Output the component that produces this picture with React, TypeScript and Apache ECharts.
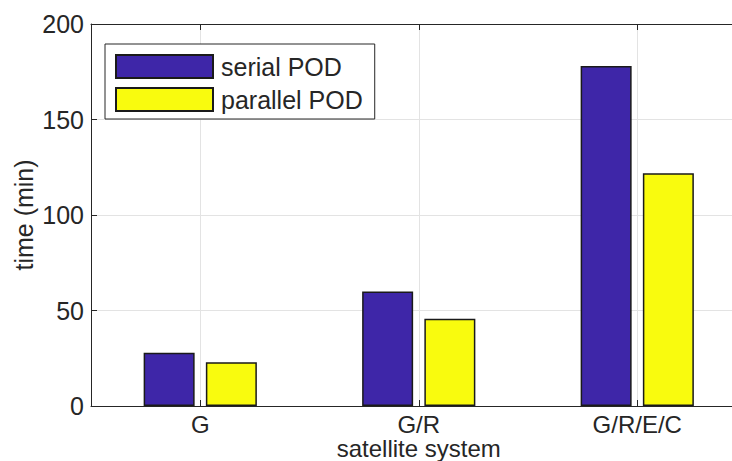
import React, { useEffect, useRef } from "react";
import * as echarts from "echarts";

const categories = ["G", "G/R", "G/R/E/C"];
const serialPOD = [27.9, 60.0, 178.0];
const parallelPOD = [22.9, 45.7, 121.8];
const yTicks = { min: 0, max: 200, interval: 50 };
const seriesNames = ["serial POD", "parallel POD"];

const FONT = "'Liberation Sans', Arial, Helvetica, sans-serif";
const TXT = "#262626";
const GRID = "#e3e3e3";

export default function App() {
  const ref = useRef<HTMLDivElement>(null);
  useEffect(() => {
    if (!ref.current) return;
    const chart = echarts.init(ref.current, undefined, { renderer: "svg" });
    const halfTicks = categories.flatMap(() => ["", ""]).concat([""]);
    const odd = (i: number) => i % 2 === 1;
    chart.setOption({
      animation: false,
      backgroundColor: "#ffffff",
      textStyle: { fontFamily: FONT },
      grid: {
        left: 91,
        top: 24,
        right: 732 - 91 - 655.5,
        bottom: 55,
        containLabel: false,
        outerBoundsMode: "none",
      },
      legend: {
        data: seriesNames,
        orient: "vertical",
        left: 105,
        top: 44,
        padding: [10, 12, 7, 10],
        itemWidth: 97,
        itemHeight: 23,
        itemGap: 8,
        icon: "rect",
        backgroundColor: "#ffffff",
        borderColor: TXT,
        borderWidth: 1,
        borderRadius: 0,
        textStyle: { fontSize: 25, color: TXT, fontFamily: FONT, padding: [0, 0, 0, 3] },
      },
      xAxis: [
        {
          type: "category",
          data: categories,
          position: "bottom",
          name: "satellite system",
          nameLocation: "middle",
          nameGap: 32,
          nameMoveOverlap: false,
          nameTextStyle: { fontSize: 24, lineHeight: 20, color: TXT, fontFamily: FONT },
          axisLine: { show: true, lineStyle: { color: TXT, width: 1 } },
          axisTick: { show: true, inside: true, alignWithLabel: true, length: 6, lineStyle: { color: TXT } },
          axisLabel: { fontSize: 24, lineHeight: 20, color: TXT, margin: 8, fontFamily: FONT },
          splitLine: { show: false },
        },
        {
          type: "category",
          data: halfTicks,
          position: "top",
          boundaryGap: false,
          axisLine: { show: true, lineStyle: { color: TXT, width: 1 } },
          axisTick: { show: true, inside: true, length: 6, interval: odd, lineStyle: { color: TXT } },
          axisLabel: { show: false },
          splitLine: { show: true, interval: odd, lineStyle: { color: GRID, width: 1 } },
        },
      ],
      yAxis: {
        type: "value",
        min: yTicks.min,
        max: yTicks.max,
        interval: yTicks.interval,
        name: "time (min)",
        nameLocation: "middle",
        nameGap: 55,
        nameMoveOverlap: false,
        nameTextStyle: { fontSize: 25, color: TXT, fontFamily: FONT },
        axisLine: { show: true, lineStyle: { color: TXT, width: 1 } },
        axisTick: { show: true, inside: true, length: 6, lineStyle: { color: TXT } },
        axisLabel: { fontSize: 25, color: TXT, margin: 7, fontFamily: FONT },
        splitLine: { show: true, lineStyle: { color: GRID, width: 1 } },
      },
      series: [
        {
          name: seriesNames[0],
          type: "bar",
          xAxisIndex: 0,
          data: serialPOD,
          barWidth: 51,
          barGap: "22%",
          itemStyle: { color: "#3E26A8", borderColor: "#1a1a1a", borderWidth: 1.5 },
        },
        {
          name: seriesNames[1],
          type: "bar",
          xAxisIndex: 0,
          data: parallelPOD,
          barWidth: 51,
          barGap: "22%",
          itemStyle: { color: "#F9FB0E", borderColor: "#1a1a1a", borderWidth: 1.5 },
        },
      ],
    });
    return () => chart.dispose();
  }, []);
  return (
    <div
      ref={ref}
      style={{ position: "absolute", left: 0, top: 0, width: 732, height: 461 }}
    />
  );
}
